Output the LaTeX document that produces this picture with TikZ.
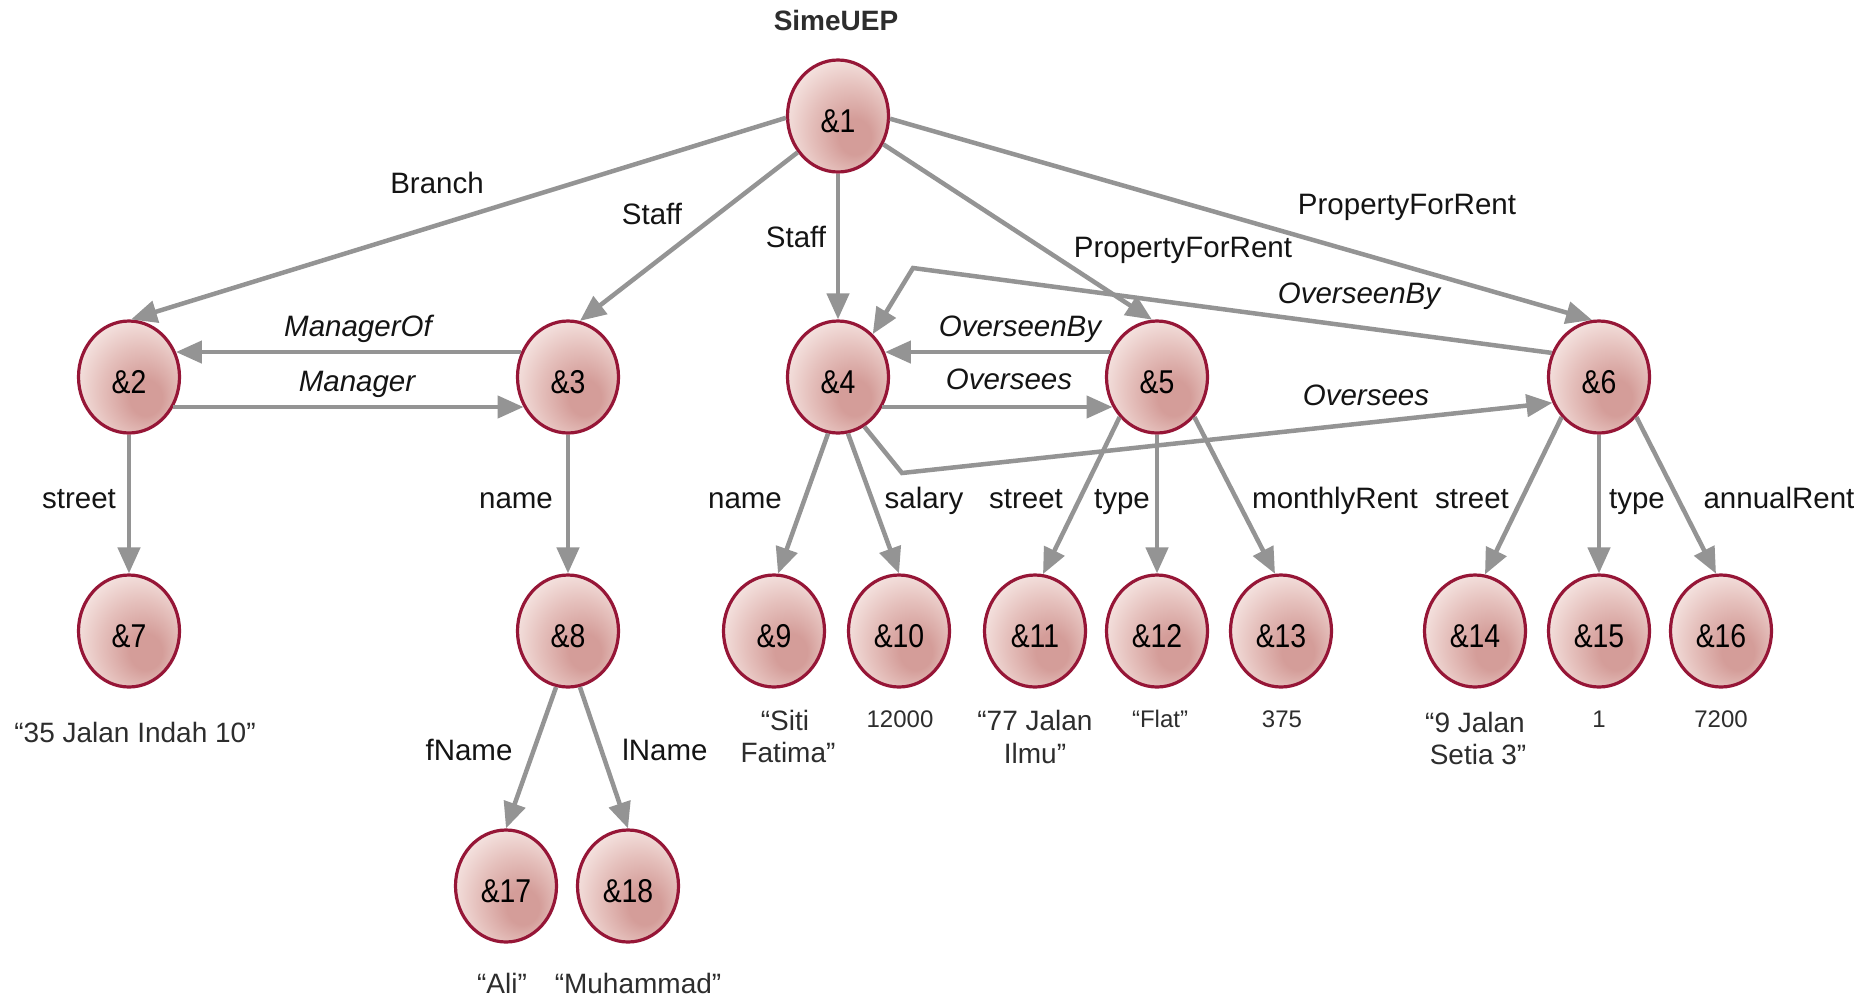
\documentclass[tikz,border=0pt]{standalone}
\usepackage{fontspec}
\setmainfont{Liberation Sans}
\newfontfamily\nodefont[FakeStretch=0.86]{Liberation Sans}
\usetikzlibrary{shapes.geometric,arrows.meta}
\definecolor{shdark}{RGB}{212,157,153}
\definecolor{shmid}{RGB}{229,192,188}
\definecolor{shlight}{RGB}{246,230,227}
\definecolor{nodebord}{RGB}{150,22,55}
\definecolor{edgegray}{RGB}{148,148,148}
\definecolor{lbltext}{RGB}{20,20,20}
\definecolor{valtext}{RGB}{45,45,45}
\pgfdeclareradialshading{ballshade}{\pgfpoint{10bp}{-11bp}}{color(0bp)=(shdark); color(8bp)=(shdark); color(20bp)=(shmid); color(32bp)=(shlight); color(50bp)=(shlight)}
\tikzset{
  nd/.style={ellipse, draw=nodebord, line width=3.2pt, minimum width=101pt, minimum height=112pt, inner sep=0pt, shade, shading=ballshade, font=\nodefont\fontsize{33}{36}\selectfont, text=black, text height=33.5pt, text depth=0pt},
  arr/.style={draw=edgegray, line width=4.5pt, -{Triangle[length=26pt,width=22pt]}},
  lbl/.style={anchor=base, inner sep=0pt, text=lbltext, font=\fontsize{29.5}{34}\selectfont},
  ilbl/.style={lbl, font=\fontsize{29.5}{34}\selectfont\itshape},
  val/.style={anchor=base, inner sep=0pt, text=valtext, font=\fontsize{28}{33}\selectfont},
  sval/.style={anchor=base, inner sep=0pt, text=valtext, font=\fontsize{24}{28}\selectfont},
  ttl/.style={anchor=base, inner sep=0pt, text=valtext, font=\fontsize{28}{32}\selectfont\bfseries}
}
\begin{document}
\begin{tikzpicture}[x=1pt,y=-1pt]
\useasboundingbox[fill=white] (0,0) rectangle (1874,997);
% nodes
\node[nd] (n1) at (838,116) {\&1};
\node[nd] (n2) at (129,377) {\&2};
\node[nd] (n3) at (568,377) {\&3};
\node[nd] (n4) at (838,377) {\&4};
\node[nd] (n5) at (1157,377) {\&5};
\node[nd] (n6) at (1599,377) {\&6};
\node[nd] (n7) at (129,631) {\&7};
\node[nd] (n8) at (568,631) {\&8};
\node[nd] (n9) at (774,631) {\&9};
\node[nd] (n10) at (899,631) {\&10};
\node[nd] (n11) at (1035,631) {\&11};
\node[nd] (n12) at (1157,631) {\&12};
\node[nd] (n13) at (1281,631) {\&13};
\node[nd] (n14) at (1475,631) {\&14};
\node[nd] (n15) at (1599,631) {\&15};
\node[nd] (n16) at (1721,631) {\&16};
\node[nd] (n17) at (506,886) {\&17};
\node[nd] (n18) at (628,886) {\&18};
% title
\node[ttl] (tSime) at (836,30) {SimeUEP};
% edges from &1
\draw[arr] (n1.182) -- (n2.88);
\draw[arr] (n1.-138) -- (n3.78);
\draw[arr] (n1.south) -- (n4.north);
\draw[arr] (n1.-32) -- (n5.95);
\draw[arr] (n1.-3) -- (n6.97);
% horizontal pairs
\draw[arr] (n3.152) -- (n2.28);
\draw[arr] (n2.-34) -- (n3.214);
\draw[arr] (n5.152) -- (n4.28);
\draw[arr] (n4.-34) -- (n5.214);
% long bent edges
\coordinate (cOB) at (913,268);
\coordinate (cOS) at (902,473);
\draw[arr] (n6.153) -- (cOB) -- (n4.51);
\draw[arr] (n4.-62) -- (cOS) -- (n6.-151);
% lower edges
\draw[arr] (n2.south) -- (n7.north);
\draw[arr] (n3.south) -- (n8.north);
\draw[arr] (n4.-100) -- (n9.86);
\draw[arr] (n4.-80) -- (n10.90);
\draw[arr] (n5.-133) -- (n11.82);
\draw[arr] (n5.south) -- (n12.north);
\draw[arr] (n5.-47) -- (n13.96);
\draw[arr] (n6.-133) -- (n14.80);
\draw[arr] (n6.south) -- (n15.north);
\draw[arr] (n6.-47) -- (n16.95);
\draw[arr] (n8.-102) -- (n17.north);
\draw[arr] (n8.-78) -- (n18.north);
% edge labels
\node[lbl] (lBranch) at (437,193) {Branch};
\node[lbl] (lStaffA) at (652,224) {Staff};
\node[lbl] (lStaffB) at (796,247) {Staff};
\node[lbl] (lPFR5) at (1183,257) {PropertyForRent};
\node[lbl] (lPFR6) at (1407,214) {PropertyForRent};
\node[ilbl] (lMgrOf) at (358,336) {ManagerOf};
\node[ilbl] (lMgr) at (357,391) {Manager};
\node[ilbl] (lOB5) at (1020,336) {OverseenBy};
\node[ilbl] (lOS5) at (1009,389) {Oversees};
\node[ilbl] (lOB6) at (1359,303) {OverseenBy};
\node[ilbl] (lOS6) at (1366,405) {Oversees};
\node[lbl] (lStreet2) at (79,508) {street};
\node[lbl] (lName3) at (516,508) {name};
\node[lbl] (lName4) at (745,508) {name};
\node[lbl] (lSalary) at (924,508) {salary};
\node[lbl] (lStreet5) at (1026,508) {street};
\node[lbl] (lType5) at (1122,508) {type};
\node[lbl] (lMonthly) at (1335,508) {monthlyRent};
\node[lbl] (lStreet6) at (1472,508) {street};
\node[lbl] (lType6) at (1637,508) {type};
\node[lbl] (lAnnual) at (1779,508) {annualRent};
\node[lbl] (lFName) at (469,760) {fName};
\node[lbl] (lLName) at (665,760) {lName};
% values
\node[val] (v7) at (135,742) {“35 Jalan Indah 10”};
\node[val] (v9a) at (785,730) {“Siti};
\node[val] (v9b) at (788,762) {Fatima”};
\node[sval] (v10) at (900,727) {12000};
\node[val] (v11a) at (1035,730) {“77 Jalan};
\node[val] (v11b) at (1035,763) {Ilmu”};
\node[sval] (v12) at (1160,727) {“Flat”};
\node[sval] (v13) at (1282,727) {375};
\node[val] (v14a) at (1475,732) {“9 Jalan};
\node[val] (v14b) at (1478,764) {Setia 3”};
\node[sval] (v15) at (1599,727) {1};
\node[sval] (v16) at (1721,727) {7200};
\node[val] (v17) at (502,993) {“Ali”};
\node[val] (v18) at (638,993) {“Muhammad”};
\end{tikzpicture}
\end{document}
